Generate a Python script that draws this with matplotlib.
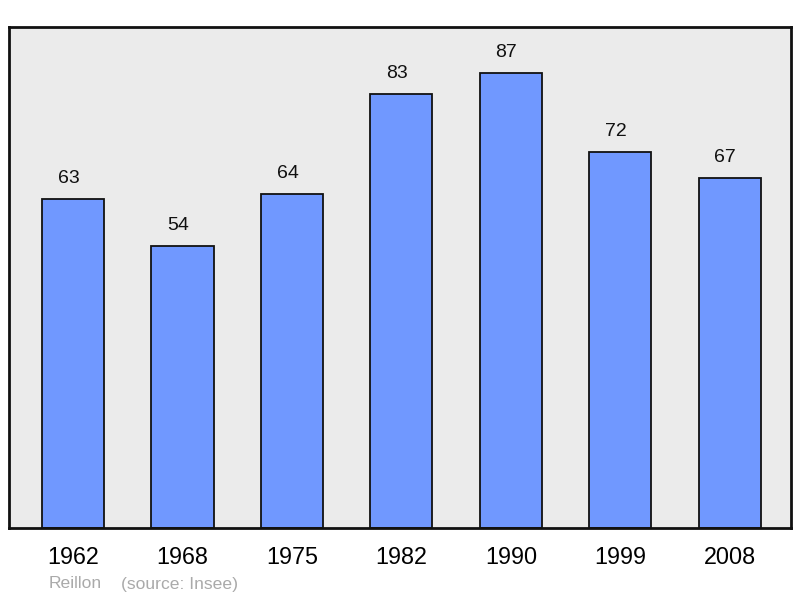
import matplotlib
matplotlib.use("Agg")
import matplotlib.pyplot as plt

years = ["1962", "1968", "1975", "1982", "1990", "1999", "2008"]
population = [63, 54, 64, 83, 87, 72, 67]

plt.rcParams['font.family'] = ['Liberation Sans', 'DejaVu Sans']

W, H = 800, 598
fig = plt.figure(figsize=(W / 100, H / 100), dpi=100)
ax = fig.add_axes([9 / W, 1 - 528 / H, (791 - 9) / W, (528 - 27) / H])
ax.set_facecolor('#ebebeb')

x = list(range(len(years)))
ax.bar(x, population, width=0.567, color='#7098ff', edgecolor='#111111', linewidth=1.3, zorder=2)
ax.set_xlim(-0.585, 6.56)
ax.set_ylim(0, 95.9)

for xi, v in zip(x, population):
    ax.text(xi - 0.04, v + 2.3, str(v), ha='center', va='bottom', fontsize=14, color='#111111')

ax.set_xticks(x)
ax.set_xticklabels(years, fontsize=16.8)
ax.tick_params(axis='x', length=0, pad=13)
ax.set_yticks([])
for s in ax.spines.values():
    s.set_linewidth(2)
    s.set_color('#111111')

fig.text(49 / W, 1 - 584 / H, "Reillon", fontsize=12.6, color='#aaaaaa', va='center', ha='left')
fig.text(121 / W, 1 - 584 / H, "(source: Insee)", fontsize=12.6, color='#aaaaaa', va='center', ha='left')

fig.savefig("out.png", dpi=100)
